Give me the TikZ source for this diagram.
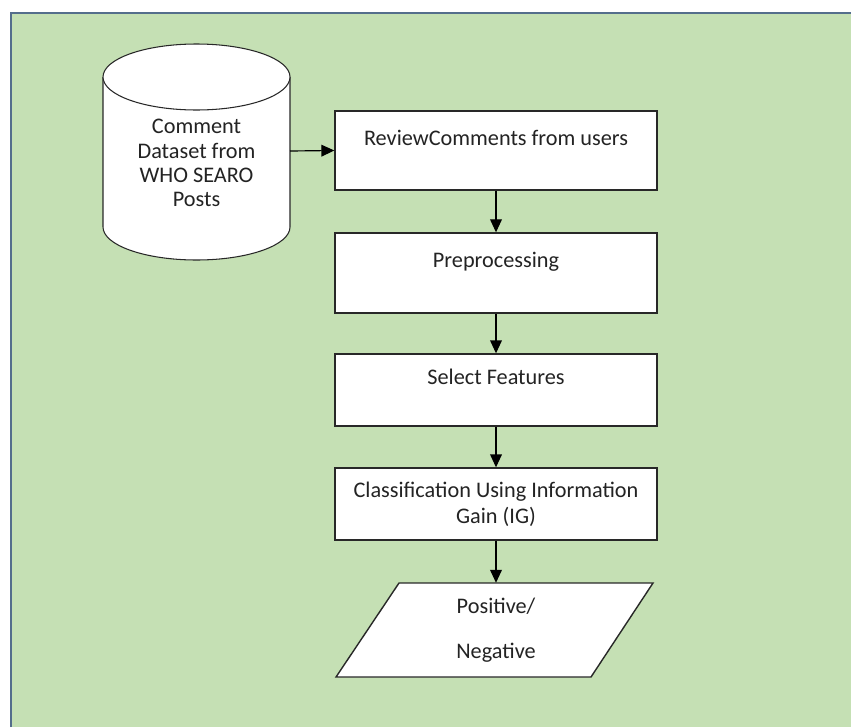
\documentclass[tikz,border=0pt]{standalone}
\usepackage{fontspec}
\setmainfont{Carlito}
\usetikzlibrary{arrows.meta}
\definecolor{bgGreen}{RGB}{197,224,180}
\definecolor{frameBlue}{RGB}{84,110,140}
\definecolor{lineGray}{RGB}{40,40,40}
\definecolor{textGray}{RGB}{35,35,35}
\tikzset{
  procbox/.style={draw=lineGray, line width=1.2pt, fill=white, minimum width=9.66cm, align=center, inner sep=0pt},
  flowarrow/.style={draw=black, line width=1pt, -{Triangle[length=11pt,width=10pt]}},
  shapeline/.style={draw=lineGray, fill=white, line width=0.9pt}
}

\begin{document}
\begin{tikzpicture}[x=0.03cm, y=-0.03cm, font=\fontsize{19}{22}\selectfont, text=textGray]
\useasboundingbox (0,0) rectangle (851,727);
\fill[bgGreen] (10,12) rectangle (851,727);
\draw[frameBlue, line width=2pt] (11,727) -- (11,13) -- (851,13);

\coordinate (cDbTop) at (196.5,77);
\coordinate (cDbR) at (290,151);

% data store
\filldraw[shapeline] (103,77) -- (103,227) arc[start angle=180, end angle=0, x radius=93.5, y radius=33] -- (290,77);
\filldraw[shapeline] (cDbTop) ellipse [x radius=93.5, y radius=33];
\node[align=center, font=\fontsize{19}{20.6}\selectfont] (db) at (196.5,163) {Comment\\Dataset from\\WHO SEARO\\Posts};

% steps
\node[procbox, minimum height=2.37cm] (review) at (496,150.5) {ReviewComments from users\\\mbox{}};
\node[procbox, minimum height=2.4cm] (prep) at (496,273) {Preprocessing\\\mbox{}};
\node[procbox, minimum height=2.16cm] (select) at (496,390) {Select Features\\\mbox{}};
\node[procbox, minimum height=2.16cm] (classify) at (496,504) {Classification Using Information\\Gain (IG)};

% output
\filldraw[shapeline, line width=1.2pt] (399,583) -- (653,583) -- (591,677) -- (336,677) -- cycle;
\node[minimum height=2.82cm, inner sep=0pt, align=center] (result) at (496,630) {Positive/\\[16pt]Negative};

\draw[flowarrow] (cDbR) -- (review.west);
\foreach \a/\b in {review/prep, prep/select, select/classify, classify/result}
{
    \draw[flowarrow] (\a.south) -- (\b.north);
};
\end{tikzpicture}
\end{document}
